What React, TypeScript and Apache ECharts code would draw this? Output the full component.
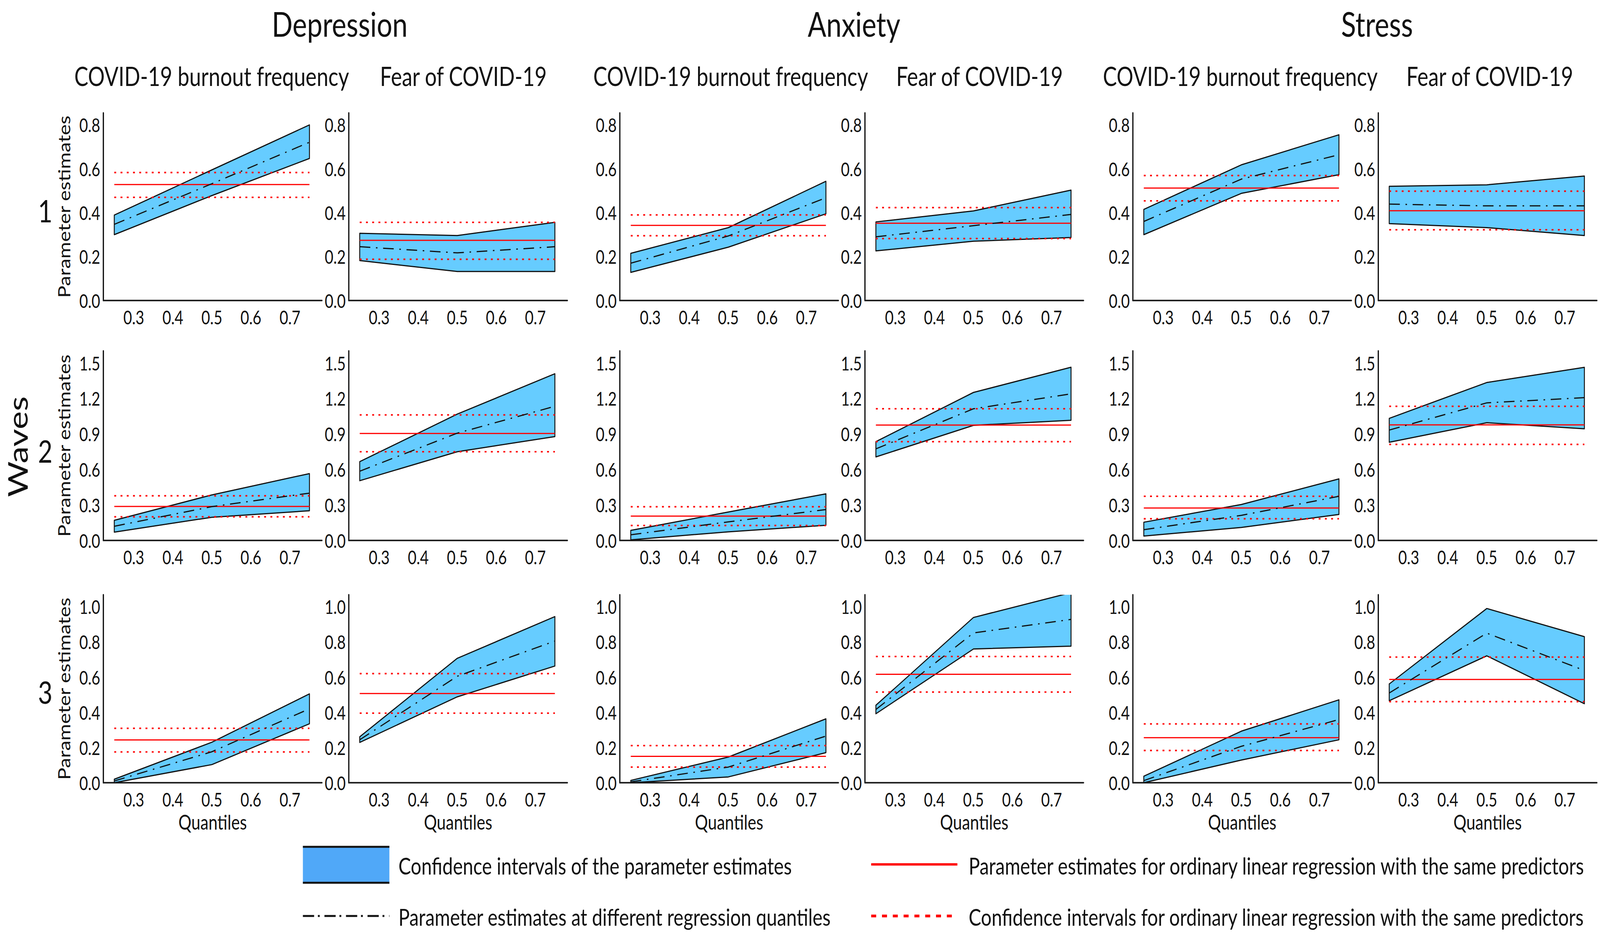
import React, { useEffect, useRef } from 'react';
import * as echarts from 'echarts';

// ---------------- data ----------------
const QUANTILES = [0.25, 0.5, 0.75];
const OUTCOMES = ['Depression', 'Anxiety', 'Stress'];
const PREDICTORS = ['COVID-19 burnout frequency', 'Fear of COVID-19'];
const WAVES = ['1', '2', '3'];
const Y_TICK_STEP = [0.2, 0.3, 0.2];
const Y_TOP_TICK = [0.8, 1.5, 1.0];
const X_AXIS_NAME = 'Quantiles';
const Y_AXIS_NAME = 'Parameter estimates';
const ROW_TITLE = 'Waves';

// [wave][panel]; panel order: Dep-burnout, Dep-fear, Anx-burnout, Anx-fear, Str-burnout, Str-fear
const CI_LOWER = [
  [[0.30, 0.478, 0.647], [0.182, 0.132, 0.132], [0.128, 0.243, 0.395], [0.226, 0.27, 0.287], [0.30, 0.488, 0.573], [0.35, 0.332, 0.296]],
  [[0.07, 0.196, 0.251], [0.505, 0.75, 0.878], [0.005, 0.073, 0.128], [0.706, 0.973, 1.016], [0.037, 0.11, 0.22], [0.83, 0.995, 0.944]],
  [[0.0, 0.103, 0.335], [0.229, 0.488, 0.663], [0.0, 0.033, 0.171], [0.392, 0.76, 0.776], [0.0, 0.129, 0.244], [0.466, 0.721, 0.449]],
];
const CI_UPPER = [
  [[0.389, 0.595, 0.80], [0.306, 0.296, 0.356], [0.215, 0.332, 0.543], [0.358, 0.408, 0.503], [0.415, 0.618, 0.755], [0.52, 0.527, 0.567]],
  [[0.17, 0.385, 0.565], [0.666, 1.068, 1.409], [0.085, 0.24, 0.394], [0.835, 1.251, 1.464], [0.154, 0.304, 0.52], [1.032, 1.335, 1.463]],
  [[0.02, 0.23, 0.505], [0.261, 0.707, 0.944], [0.013, 0.146, 0.363], [0.44, 0.939, 1.08], [0.037, 0.293, 0.471], [0.561, 0.99, 0.83]],
];
const QR_ESTIMATE = [
  [[0.347, 0.532, 0.721], [0.245, 0.217, 0.245], [0.17, 0.294, 0.468], [0.29, 0.341, 0.392], [0.36, 0.553, 0.664], [0.439, 0.431, 0.431]],
  [[0.12, 0.286, 0.40], [0.585, 0.907, 1.134], [0.048, 0.157, 0.261], [0.774, 1.113, 1.239], [0.091, 0.212, 0.373], [0.933, 1.163, 1.207]],
  [[0.01, 0.176, 0.42], [0.244, 0.605, 0.805], [0.005, 0.089, 0.265], [0.416, 0.851, 0.928], [0.012, 0.207, 0.359], [0.51, 0.85, 0.638]],
];
const OLS_ESTIMATE = [
  [0.528, 0.274, 0.342, 0.352, 0.512, 0.409],
  [0.287, 0.904, 0.206, 0.975, 0.274, 0.977],
  [0.243, 0.507, 0.15, 0.616, 0.256, 0.587],
];
const OLS_UPPER = [
  [0.583, 0.356, 0.39, 0.423, 0.569, 0.498],
  [0.377, 1.061, 0.285, 1.113, 0.373, 1.134],
  [0.309, 0.62, 0.211, 0.717, 0.334, 0.714],
];
const OLS_LOWER = [
  [0.47, 0.188, 0.295, 0.282, 0.454, 0.322],
  [0.2, 0.75, 0.126, 0.835, 0.183, 0.812],
  [0.175, 0.395, 0.089, 0.515, 0.183, 0.461],
];
const LEGEND_LABELS = [
  'Confidence intervals of the parameter estimates',
  'Parameter estimates at different regression quantiles',
  'Parameter estimates for ordinary linear regression with the same predictors',
  'Confidence intervals for ordinary linear regression with the same predictors',
];

// ---------------- layout / style ----------------
const DESIGN_W = 5124;
const DESIGN_H = 2385;
const FONT = 'Lato';
const TEXT = '#111111';
const BAND_FILL = '#66CCFF';
const RED = '#FF0000';
const COL_LEFT = [331, 1117, 1985, 2770, 3628, 4414];
const PANEL_W = 700;
const ROW_TOP = [289, 898, 1522];
const ROW_BOTTOM = [769, 1383, 2003];
const X_MIN = 0.222;
const X_MAX = 0.782;
const TITLE_X = [1088, 2735, 4410];
const SUBTITLE_X = [678, 1484, 2340, 3137, 3972, 4771];
const ROW_LABEL_Y = [538, 1153, 1770];
const DASHDOT = [34, 18, 5, 18];

function buildOption() {
  const grid: any[] = [];
  const xAxis: any[] = [];
  const yAxis: any[] = [];
  const series: any[] = [];

  for (let r = 0; r < 3; r++) {
    for (let c = 0; c < 6; c++) {
      const idx = r * 6 + c;
      grid.push({ left: COL_LEFT[c], top: ROW_TOP[r], width: PANEL_W, height: ROW_BOTTOM[r] - ROW_TOP[r] });
      xAxis.push({
        type: 'value', gridIndex: idx, min: X_MIN, max: X_MAX, minInterval: 0.1, maxInterval: 0.1,
        axisLine: { show: true, lineStyle: { color: '#222', width: 4 } },
        axisTick: { show: false }, splitLine: { show: false },
        axisLabel: {
          showMinLabel: false, showMaxLabel: false, fontSize: 48, color: TEXT, fontFamily: FONT, margin: 18,
          formatter: (v: number) => v.toFixed(1),
        },
        name: r === 2 ? X_AXIS_NAME : '', nameLocation: 'middle', nameGap: 74,
        nameTextStyle: { fontSize: 52, color: TEXT, fontFamily: FONT },
      });
      const yMax = Y_TOP_TICK[r] * 1.068;
      yAxis.push({
        type: 'value', gridIndex: idx, min: 0, max: yMax, interval: Y_TICK_STEP[r],
        axisLine: { show: true, lineStyle: { color: '#111', width: 4 } },
        axisTick: { show: false }, splitLine: { show: false },
        axisLabel: {
          showMaxLabel: false, fontSize: 48, color: TEXT, fontFamily: FONT, margin: 10,
          formatter: (v: number) => v.toFixed(1),
        },
        name: c === 0 ? Y_AXIS_NAME : '', nameLocation: 'middle', nameGap: 100,
        nameTextStyle: { fontSize: 52, color: TEXT, fontFamily: FONT },
      });

      const lo = CI_LOWER[r][c];
      const hi = CI_UPPER[r][c];
      series.push({
        type: 'custom', xAxisIndex: idx, yAxisIndex: idx, silent: true, clip: true, z: 1,
        data: QUANTILES.map((q, i) => [q, lo[i], hi[i]]),
        encode: { x: 0, y: [1, 2] },
        renderItem: (params: any, api: any) => {
          if (params.dataIndex !== 0) return null;
          const up = QUANTILES.map((q, i) => api.coord([q, hi[i]]));
          const dn = QUANTILES.map((q, i) => api.coord([q, lo[i]])).reverse();
          return {
            type: 'polygon',
            shape: { points: [...up, ...dn] },
            style: { fill: BAND_FILL, stroke: '#111', lineWidth: 3, lineJoin: 'round' },
          };
        },
      });
      series.push({
        type: 'line', xAxisIndex: idx, yAxisIndex: idx, silent: true, z: 2, symbol: 'none',
        data: [[QUANTILES[0], OLS_ESTIMATE[r][c]], [QUANTILES[2], OLS_ESTIMATE[r][c]]],
        lineStyle: { color: RED, width: 3 },
      });
      series.push({
        type: 'line', xAxisIndex: idx, yAxisIndex: idx, silent: true, z: 2, symbol: 'none',
        data: [[QUANTILES[0], OLS_UPPER[r][c]], [QUANTILES[2], OLS_UPPER[r][c]]],
        lineStyle: { color: RED, width: 4, type: [6, 14] },
      });
      series.push({
        type: 'line', xAxisIndex: idx, yAxisIndex: idx, silent: true, z: 2, symbol: 'none',
        data: [[QUANTILES[0], OLS_LOWER[r][c]], [QUANTILES[2], OLS_LOWER[r][c]]],
        lineStyle: { color: RED, width: 4, type: [6, 14] },
      });
      series.push({
        type: 'line', xAxisIndex: idx, yAxisIndex: idx, silent: true, z: 3, symbol: 'none',
        data: QUANTILES.map((q, i) => [q, QR_ESTIMATE[r][c][i]]),
        lineStyle: { color: '#111', width: 3, type: DASHDOT },
      });
    }
  }

  const txt = (text: string, x: number, y: number, fontSize: number, align = 'center', rotation = 0) => ({
    type: 'text', x, y, rotation, silent: true,
    style: {
      text, fontSize, fontFamily: FONT, fill: TEXT,
      align, verticalAlign: 'middle', textAlign: align, textVerticalAlign: 'middle',
    },
  });

  const graphic: any[] = [];
  OUTCOMES.forEach((t, i) => graphic.push(txt(t, TITLE_X[i], 60, 88)));
  SUBTITLE_X.forEach((x, i) => graphic.push(txt(PREDICTORS[i % 2], x, 194, 67)));
  WAVES.forEach((w, i) => graphic.push(txt(w, 145, ROW_LABEL_Y[i], 80)));
  graphic.push(txt(ROW_TITLE, 54, 1143, 88, 'center', Math.PI / 2));

  // legend
  graphic.push({ type: 'rect', silent: true, shape: { x: 970, y: 2165, width: 277, height: 96 }, style: { fill: '#50A8F8' } });
  graphic.push({ type: 'line', silent: true, shape: { x1: 970, y1: 2167, x2: 1247, y2: 2167 }, style: { stroke: '#111', lineWidth: 5 } });
  graphic.push({ type: 'line', silent: true, shape: { x1: 970, y1: 2259, x2: 1247, y2: 2259 }, style: { stroke: '#111', lineWidth: 5 } });
  graphic.push(txt(LEGEND_LABELS[0], 1276, 2215, 60, 'left'));
  graphic.push({ type: 'line', silent: true, shape: { x1: 970, y1: 2344, x2: 1247, y2: 2344 }, style: { stroke: '#111', lineWidth: 5, lineDash: [36, 12, 6, 15] } });
  graphic.push(txt(LEGEND_LABELS[1], 1276, 2346, 60, 'left'));
  graphic.push({ type: 'line', silent: true, shape: { x1: 2790, y1: 2212, x2: 3066, y2: 2212 }, style: { stroke: RED, lineWidth: 6 } });
  graphic.push(txt(LEGEND_LABELS[2], 3102, 2215, 60, 'left'));
  graphic.push({ type: 'line', silent: true, shape: { x1: 2790, y1: 2344, x2: 3066, y2: 2344 }, style: { stroke: RED, lineWidth: 7, lineDash: [16, 18.6] } });
  graphic.push(txt(LEGEND_LABELS[3], 3102, 2346, 60, 'left'));

  return {
    animation: false,
    backgroundColor: '#ffffff',
    textStyle: { fontFamily: FONT },
    grid, xAxis, yAxis, series, graphic,
  };
}

export default function App() {
  const ref = useRef<HTMLDivElement>(null);
  useEffect(() => {
    const el = ref.current;
    if (!el) return;
    document.body.style.margin = '0';
    document.body.style.overflow = 'hidden';
    // fit the design canvas into whatever viewport the browser actually gives
    const sx = window.innerWidth / DESIGN_W;
    const sy = window.innerHeight / DESIGN_H;
    el.style.transform = `scale(${sx}, ${sy})`;
    const chart = echarts.init(el, null, { renderer: 'svg' });
    chart.setOption(buildOption());
    return () => chart.dispose();
  }, []);
  return (
    <div
      ref={ref}
      style={{
        position: 'fixed', left: 0, top: 0, width: DESIGN_W, height: DESIGN_H,
        background: '#fff', transformOrigin: '0 0',
      }}
    />
  );
}
